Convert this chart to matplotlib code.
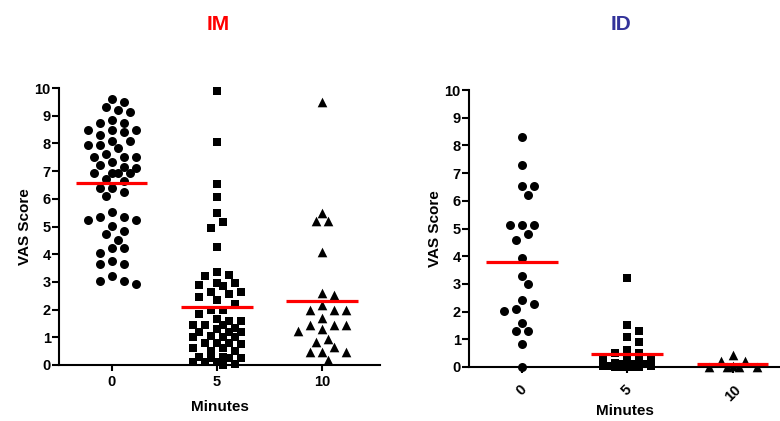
import numpy as np
import matplotlib
matplotlib.use("Agg")
import matplotlib.pyplot as plt

plt.rcParams['font.family'] = ['Liberation Sans', 'DejaVu Sans']
plt.rcParams['font.weight'] = 'bold'

minutes = ['0', '5', '10']

# VAS scores, IM group
im_0 = [9.62, 9.32, 9.2, 9.5, 9.13, 8.83, 8.72, 8.72, 8.42, 8.5, 8.5, 8.5, 8.32,
        8.1, 8.1, 7.94, 7.82, 7.94, 7.63, 7.52, 7.52, 7.52, 7.33, 7.13, 7.1, 7.22,
        6.93, 6.93, 6.93, 6.93, 6.73, 6.65, 6.4, 6.4, 6.23, 6.1, 5.53, 5.33, 5.23,
        5.23, 5.33, 5.03, 4.83, 4.73, 4.53, 4.23, 4.23, 4.04, 3.63, 3.63, 3.74,
        3.23, 3.03, 2.93, 3.03]
im_5 = [9.9, 8.05, 6.55, 6.05, 5.5, 5.15, 4.95, 4.25,
        3.35, 3.2, 3.25, 2.95, 2.95, 2.85, 2.9, 2.65, 2.55, 2.65, 2.45, 2.35,
        2.2, 2.0, 2.0, 1.85, 1.6, 1.6, 1.65, 1.45, 1.45, 1.45, 1.35,
        1.3, 1.2, 1.2, 1.2, 1.05, 1.0, 1.0, 1.0, 0.8, 0.8, 0.8, 0.6, 0.75,
        0.6, 0.5, 0.5, 0.3, 0.25, 0.3, 0.25, 0.25, 0.1, 0.05, 0.1, 0.0, 0.1]
im_10 = [9.5, 5.5, 5.2, 5.2, 4.09, 2.59, 2.53, 2.17, 1.99, 1.99, 1.99, 1.69,
         1.44, 1.44, 1.44, 1.23, 1.3, 0.83, 0.95, 0.66, 0.48, 0.48, 0.48, 0.18]

# VAS scores, ID group
id_0 = [8.32, 7.3, 6.52, 6.52, 6.22, 5.11, 5.11, 5.11, 4.6, 4.8, 3.94, 3.3,
        3.01, 2.41, 2.29, 2.1, 2.02, 1.6, 1.3, 1.3, 0.82, 0.0]
id_5 = [3.2, 1.5, 1.3, 1.1, 0.9, 0.6, 0.5, 0.5, 0.3, 0.3, 0.25,
        0.2, 0.15, 0.1, 0.1, 0.05, 0.05, 0.0, 0.0, 0.0, 0.0, 0.1, 0.0, 0.05]
id_10 = [0.43, 0.2, 0.2, 0.05, 0.0, 0.0, 0.0, 0.0]


def swarm(ax, xpos, vals, diam=10, step=6, maxk=5):
    # simple column scatter: spread points sideways so they don't overlap (pixel space)
    vals = np.asarray(vals, float)
    order = np.argsort(vals)[::-1]
    placed = []
    xs = np.zeros(len(vals))
    ks = [0]
    for k in range(1, maxk + 1):
        ks += [k, -k]
    for i in order:
        px, py = ax.transData.transform((xpos, vals[i]))
        best, bestd = px, -1
        for k in ks:
            x = px + k * step
            d = min([np.hypot(x - qx, py - qy) for qx, qy in placed] or [1e9])
            if d >= diam:
                best = x
                break
            if d > bestd:
                best, bestd = x, d
        placed.append((best, py))
        xs[i] = ax.transData.inverted().transform((best, py))[0]
    return xs


fig = plt.figure(figsize=(7.8, 4.21), dpi=100)
ax1 = fig.add_axes([59/780, 56/421, 321/780, 277/421])
ax2 = fig.add_axes([469/780, 54/421, 311/780, 277/421])

markers = ['o', 's', '^']
sizes = [42, 34, 48]

for ax, groups, xmax in [(ax1, [im_0, im_5, im_10], 2.55), (ax2, [id_0, id_5, id_10], 2.45)]:
    ax.set_xlim(-0.5, xmax)
    ax.set_ylim(0, 10)
    for j, vals in enumerate(groups):
        xs = swarm(ax, j, vals, maxk=4)
        ax.scatter(xs, vals, marker=markers[j], s=sizes[j], c='black',
                   linewidths=0, clip_on=False, zorder=3)
        ax.hlines(np.mean(vals), j - 0.34, j + 0.34, color='red', lw=2.3, zorder=4)
    ax.spines['top'].set_visible(False)
    ax.spines['right'].set_visible(False)
    ax.spines['left'].set_linewidth(1.5)
    ax.spines['bottom'].set_linewidth(1.5)
    ax.set_yticks(range(0, 11))
    ax.set_xticks([0, 1, 2])
    ax.tick_params(axis='y', length=5, width=1.5, labelsize=10.5, pad=1)
    ax.tick_params(axis='x', length=4, width=1.5, labelsize=10.5, pad=3)
    ax.set_ylabel('VAS Score', fontsize=11, fontweight='bold', labelpad=2)

ax1.set_xticklabels(minutes)
ax2.set_xticklabels(minutes, rotation=45)
ax2.tick_params(axis='x', pad=7)
ax1.set_xlabel('Minutes', fontsize=11, fontweight='bold', labelpad=8)
ax2.set_xlabel('Minutes', fontsize=11, fontweight='bold', labelpad=0)

fig.text(218/780, 1 - 24/421, 'IM', color='red', ha='center', va='center',
         fontsize=15, fontweight='bold')
fig.text(621/780, 1 - 24/421, 'ID', color='#33339a', ha='center', va='center',
         fontsize=15, fontweight='bold')

fig.savefig('out.png', dpi=100)
